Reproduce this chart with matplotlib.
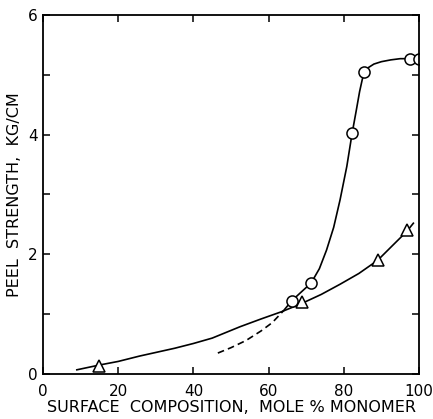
import numpy as np
import matplotlib
matplotlib.use("Agg")
import matplotlib.pyplot as plt

# measured points
circ_x = [66.1, 71.3, 82.2, 85.4, 97.5, 100.0]
circ_y = [1.22, 1.52, 4.02, 5.04, 5.27, 5.27]
tri_x = [14.8, 68.8, 89.2, 96.7]
tri_y = [0.14, 1.20, 1.90, 2.40]

# hand-drawn curves
circ_curve_x = [64.0, 66.1, 68.5, 71.3, 73.5, 75.4, 77.3, 79.0, 80.8, 82.2, 83.3, 84.2, 84.9, 85.4, 86.5, 88.0, 90.0, 92.5, 95.0, 97.5]
circ_curve_y = [1.06, 1.22, 1.36, 1.52, 1.76, 2.07, 2.45, 2.91, 3.47, 4.02, 4.40, 4.72, 4.92, 5.04, 5.12, 5.18, 5.22, 5.25, 5.27, 5.27]
dash_x = [46.5, 50.0, 54.0, 58.0, 61.0, 64.0]
dash_y = [0.35, 0.44, 0.56, 0.72, 0.86, 1.06]
tri_curve_x = [9.0, 15.0, 20.0, 25.7, 30.0, 35.0, 40.0, 45.0, 52.4, 58.0, 63.4, 68.5, 74.0, 79.0, 84.0, 89.0, 93.0, 96.7, 98.5]
tri_curve_y = [0.07, 0.15, 0.21, 0.30, 0.36, 0.43, 0.51, 0.60, 0.79, 0.92, 1.04, 1.17, 1.33, 1.50, 1.68, 1.90, 2.15, 2.38, 2.52]

xticks = [0, 20, 40, 60, 80, 100]
yticks = [0, 1, 2, 3, 4, 5, 6]
ylabels = ["0", "", "2", "", "4", "", "6"]

fig = plt.figure(figsize=(4.33, 4.19), dpi=100)
ax = fig.add_axes([0.0993, 0.1074, 0.8684, 0.8568])

ax.plot(tri_curve_x, tri_curve_y, color="black", lw=1.2)
ax.plot(circ_curve_x, circ_curve_y, color="black", lw=1.2)
ax.plot(dash_x, dash_y, color="black", lw=1.2, ls=(0, (4, 2.5)))
ax.plot(circ_x, circ_y, "o", ms=8, mfc="white", mec="black", mew=1.1, ls="none")
ax.plot(tri_x, tri_y, "^", ms=9, mfc="white", mec="black", mew=1.1, ls="none")

ax.set_xlim(0, 100)
ax.set_ylim(0, 6)
ax.set_xticks(xticks)
ax.set_yticks(yticks)
ax.set_yticklabels(ylabels)
ax.tick_params(direction="in", top=True, right=True, length=5, width=1.1,
               labelsize=11)
ax.tick_params(axis="x", pad=7)
ax.tick_params(axis="y", pad=4)
for s in ax.spines.values():
    s.set_linewidth(1.3)

ax.set_xlabel("SURFACE  COMPOSITION,  MOLE % MONOMER", fontsize=11.5, labelpad=1)
ax.set_ylabel("PEEL  STRENGTH,  KG/CM", fontsize=11.5, labelpad=4)

fig.savefig("out.png", dpi=100)
